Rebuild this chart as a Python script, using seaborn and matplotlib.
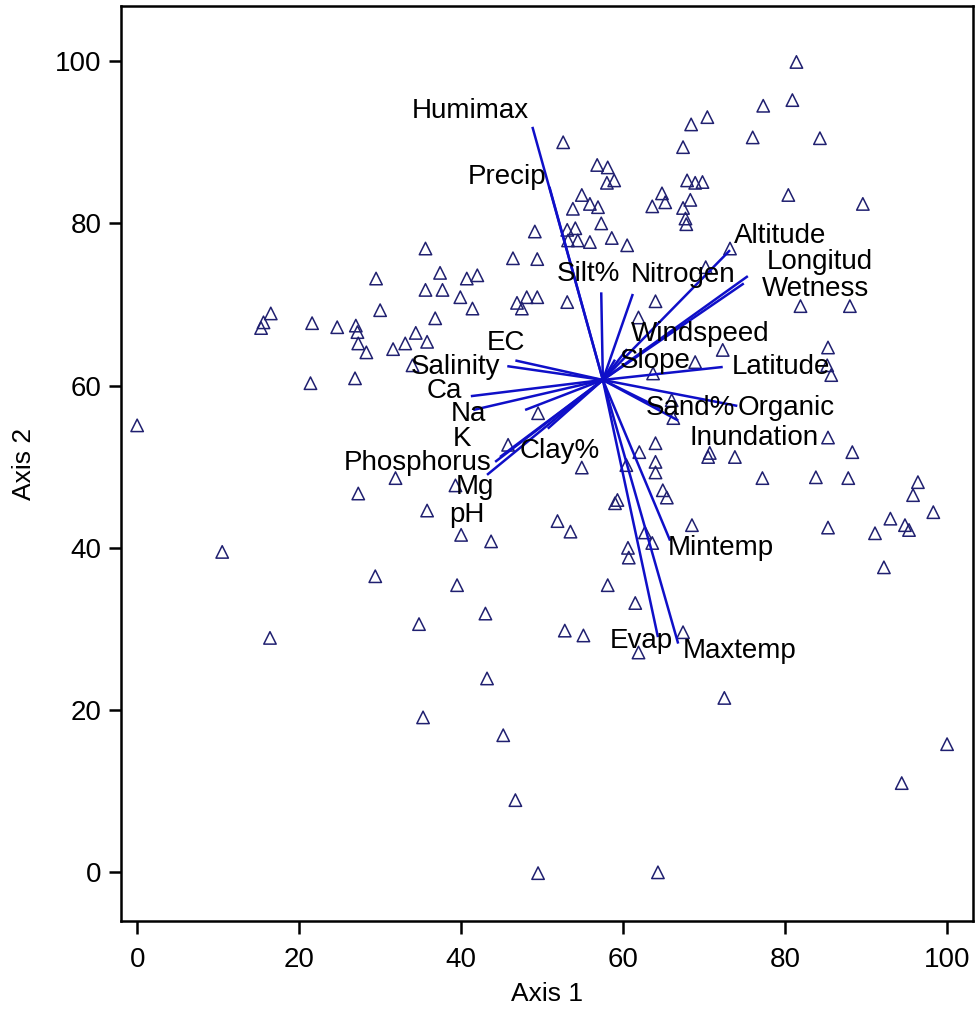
import matplotlib
matplotlib.use("Agg")
import matplotlib.pyplot as plt
import seaborn as sns
import pandas as pd

# ---- site scores (Axis 1, Axis 2) ----
axis1 = [81.4, 77.3, 80.9, 68.4, 70.4, 76.0, 84.3, 67.4, 52.6, 56.8, 58.1, 58.9, 58.0, 54.9, 55.9,
         56.9, 53.8, 57.3, 53.1, 54.1, 53.2, 54.4, 55.9, 58.6, 60.5, 67.9, 68.9, 69.8, 64.8, 65.2,
         63.6, 68.3, 67.4, 67.7, 67.8, 80.4, 89.6, 73.2, 70.2, 64.0, 53.1, 81.9, 88.0, 61.9,
         49.1, 35.6, 46.4, 49.4, 29.5, 37.4, 40.7, 42.0, 35.6, 37.7, 39.9, 41.4, 46.9, 48.1, 49.4,
         47.5, 30.0, 36.8, 16.5, 15.6, 15.3, 21.6, 24.7, 27.0, 27.2, 27.3, 28.3, 34.4, 33.1, 31.6,
         35.8, 34.0, 21.4, 26.9, 0.0,
         49.5, 45.8, 31.9, 27.3, 39.3, 35.8, 40.0, 43.7, 10.5, 29.4, 39.5, 43.0, 34.8, 16.4, 43.2,
         35.3, 45.2, 46.7, 49.5,
         72.3, 85.3, 68.9, 63.7, 85.2, 85.7, 66.0, 66.2, 85.3, 64.0, 62.0, 70.7, 70.5, 73.8, 64.0,
         88.3, 64.0, 54.9, 60.4, 77.2, 83.8, 87.8, 96.4, 95.8, 64.9, 65.4, 59.3, 59.0, 98.3, 93.0,
         94.8, 95.3, 91.1, 85.3, 68.5, 51.9, 53.5, 62.7, 63.6, 60.6, 60.7, 92.2, 58.1, 61.5, 52.8,
         55.1, 61.9, 67.4, 72.5, 100.0, 94.4, 64.3]
axis2 = [99.9, 94.5, 95.2, 92.2, 93.1, 90.6, 90.5, 89.4, 90.0, 87.2, 86.9, 85.3, 85.0, 83.5, 82.4,
         82.0, 81.8, 80.0, 79.2, 79.4, 77.9, 77.9, 77.7, 78.2, 77.3, 85.3, 85.0, 85.1, 83.7, 82.6,
         82.1, 82.9, 81.9, 80.6, 79.9, 83.5, 82.4, 76.9, 74.6, 70.4, 70.3, 69.8, 69.8, 68.4,
         79.0, 76.9, 75.7, 75.6, 73.2, 73.9, 73.2, 73.6, 71.8, 71.8, 70.9, 69.5, 70.2, 70.9, 70.9,
         69.5, 69.3, 68.3, 68.9, 67.8, 67.1, 67.7, 67.2, 67.4, 66.6, 65.2, 64.1, 66.5, 65.2, 64.5,
         65.4, 62.5, 60.3, 60.9, 55.1,
         56.6, 52.7, 48.6, 46.7, 47.7, 44.6, 41.6, 40.8, 39.5, 36.5, 35.4, 31.9, 30.6, 28.9, 23.9,
         19.1, 16.9, 8.9, -0.1,
         64.4, 64.7, 62.9, 61.5, 62.5, 61.3, 58.2, 56.0, 53.6, 52.9, 51.8, 51.7, 51.2, 51.2, 50.6,
         51.8, 49.3, 49.9, 50.2, 48.6, 48.7, 48.6, 48.1, 46.5, 47.1, 46.2, 45.9, 45.5, 44.4, 43.6,
         42.8, 42.2, 41.8, 42.5, 42.8, 43.3, 42.0, 41.9, 40.6, 40.0, 38.8, 37.6, 35.4, 33.2, 29.8,
         29.2, 27.1, 29.6, 21.5, 15.8, 11.0, 0.0]

# ---- environmental vectors ----
origin = (57.5, 60.7)
variables = ["Humimax", "Precip", "Silt%", "Nitrogen", "Altitude", "Longitud", "Wetness",
             "Windspeed", "Slope", "Latitude", "Sand%", "Organic", "Inundation", "Mintemp",
             "Evap", "Maxtemp", "EC", "Salinity", "Ca", "Na", "K", "Phosphorus", "Clay%",
             "Mg", "pH"]
vec_x = [48.8, 50.9, 57.3, 61.2, 73.2, 75.4, 74.9, 60.5, 59.0, 72.3, 64.6, 74.1, 66.8, 65.8,
         64.3, 66.8, 46.7, 45.7, 41.2, 41.5, 47.9, 44.8, 50.7, 43.2, 44.2]
vec_y = [91.9, 84.5, 71.5, 71.3, 76.7, 73.5, 72.6, 64.5, 63.2, 62.3, 57.2, 57.5, 55.7, 40.9,
         29.0, 28.2, 63.1, 62.4, 58.7, 57.0, 57.0, 51.2, 54.7, 49.0, 50.6]
# label anchor (centre of text)
lab_x = [41.1, 45.7, 55.7, 67.4, 79.4, 84.3, 83.7, 69.5, 64.0, 79.5, 68.3, 80.1, 76.2, 72.1,
         62.3, 74.4, 45.6, 39.3, 37.9, 40.9, 40.1, 34.6, 52.2, 41.7, 40.7]
lab_y = [93.8, 85.7, 73.7, 73.6, 78.4, 75.3, 71.9, 66.4, 63.0, 62.3, 57.2, 57.2, 53.6, 40.0,
         28.5, 27.3, 65.2, 62.3, 59.3, 56.5, 53.4, 50.4, 52.0, 47.5, 44.1]

sns.set_theme(style="ticks")
plt.rcParams['font.family'] = ['Liberation Sans', 'DejaVu Sans']

fig = plt.figure(figsize=(9.77, 10.16), dpi=100)
ax = fig.add_axes([0.1238, 0.0935, 0.8721, 0.9006])

df = pd.DataFrame({"Axis 1": axis1, "Axis 2": axis2})
sns.scatterplot(data=df, x="Axis 1", y="Axis 2", marker="^", s=80,
                facecolors="none", edgecolor="#202070", linewidth=1.1, ax=ax, zorder=3)

for vx, vy in zip(vec_x, vec_y):
    ax.plot([origin[0], vx], [origin[1], vy], color="#0f0fc8", lw=1.8, zorder=4,
            solid_capstyle="butt")

for name, tx, ty in zip(variables, lab_x, lab_y):
    ax.text(tx, ty, name, ha="center", va="center", fontsize=20, color="black", zorder=5)

ax.set_xlim(-2, 103.2)
ax.set_ylim(-6, 106.8)
ax.set_xticks([0, 20, 40, 60, 80, 100])
ax.set_yticks([0, 20, 40, 60, 80, 100])
for sp in ax.spines.values():
    sp.set_linewidth(1.8)
    sp.set_color("black")
ax.tick_params(axis="both", direction="out", length=9, width=1.8, labelsize=20,
               colors="black", labelcolor="black")
ax.tick_params(axis="x", pad=10)
ax.tick_params(axis="y", pad=5)
ax.set_xlabel("Axis 1", fontsize=19, labelpad=6, color="black")
ax.set_ylabel("Axis 2", fontsize=19, labelpad=14, color="black")

fig.savefig("out.png", dpi=100)
